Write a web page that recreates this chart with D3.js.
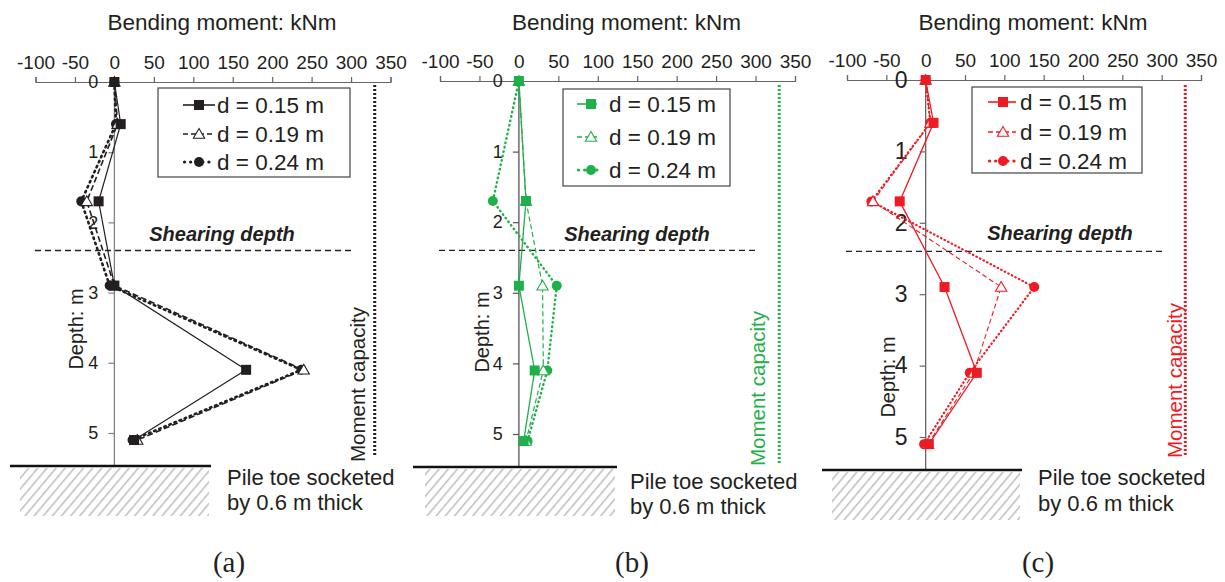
<!DOCTYPE html>
<html>
<head>
<meta charset="utf-8">
<script src="https://cdn.jsdelivr.net/npm/d3@7"></script>
<style>
  html, body { margin: 0; padding: 0; background: #fff; }
  svg { display: block; font-family: "Liberation Sans", Arial, sans-serif; }
</style>
</head>
<body>
<svg id="chart" width="1225" height="582"></svg>
<script>
// ---------------- DATA ----------------
const xTicks = [-100, -50, 0, 50, 100, 150, 200, 250, 300, 350];
const yTicks = [0, 1, 2, 3, 4, 5];
const seriesNames = ["d = 0.15 m", "d = 0.19 m", "d = 0.24 m"];
const panelLabels = ["(a)", "(b)", "(c)"];

const depthsAC = [0, 0.6, 1.7, 2.9, 4.1, 5.1];
const depthsB = [0, 1.7, 2.9, 4.1, 5.1];

const momentA015 = [0, 8, -20, 0, 167, 25];
const momentA019 = [0, 4, -35, 0, 240, 29];
const momentA024 = [0, 2, -42, -6, 237, 23];

const momentB015 = [0, 9, 0, 20, 6];
const momentB019 = [0, 9, 30, 31, 9];
const momentB024 = [0, -33, 48, 36, 11];

const momentC015 = [0, 10, -33, 24, 65, 4];
const momentC019 = [0, 6, -67, 96, 61, 3];
const momentC024 = [0, 6, -69, 138, 56, -2];

const momentCapacity = 330;
const shearingDepth = 2.4;

// ---------------- LAYOUT ----------------
const panels = [
  { color: "#231f20", depths: depthsAC, series: [momentA015, momentA019, momentA024],
    xr: [35.5, 390.5], yr: [82, 433], axisColor: "#808080", tickFont: 18, tickPad: 10,
    ground: 466, hatch: [20, 468, 209, 516], groundX: [10, 211],
    legend: { x: 158, y: 88, w: 192, h: 89, rows: [105, 134, 162], mx: 199, lx: [183, 215], tx: 217 },
    shearX: [35, 351], shearText: [222, 241],
    capY: [85, 456], capText: [365, 462],
    depthLabel: [83, 329], pileText: [227, 485, 510], label: [229, 572],
    lineW: [1.2, 1.6, 2.6], dash: [null, "6,3", "1.5,4"] },
  { color: "#1fb04b", depths: depthsB, series: [momentB015, momentB019, momentB024],
    xr: [440, 795], yr: [81, 434], axisColor: "#555", tickFont: 18, tickPad: 10,
    ground: 467, hatch: [425, 469, 615, 516], groundX: [413, 617],
    legend: { x: 563, y: 89, w: 167, h: 97, rows: [104, 137, 170], mx: 591, lx: [577, 597], tx: 609 },
    shearX: [439, 757], shearText: [637, 241],
    capY: [85, 465], capText: [765, 466],
    depthLabel: [489, 332], pileText: [630, 489, 514], label: [632, 572],
    lineW: [1.3, 1.2, 2.4], dash: [null, "5,3", "0.5,4"] },
  { color: "#ed1c24", depths: depthsAC, series: [momentC015, momentC019, momentC024],
    xr: [847, 1201], yr: [80, 437], axisColor: "#666", tickFont: 23, tickPad: 12,
    ground: 470, hatch: [832, 472, 1020, 520], groundX: [822, 1022],
    legend: { x: 972, y: 87, w: 170, h: 86, rows: [102, 132, 161], mx: 1003, lx: [988, 1016], tx: 1020 },
    shearX: [846, 1162], shearText: [1060, 240],
    capY: [85, 456], capText: [1182, 458],
    depthLabel: [895, 377], pileText: [1038, 485, 511], label: [1038, 572],
    lineW: [1.3, 1.1, 2.2], dash: [null, "5,3", "0.5,3.5"] }
];

const svg = d3.select("#chart");
const textColor = "#231f20";

// hatch pattern
const defs = svg.append("defs");
const pat = defs.append("pattern").attr("id", "hatch").attr("patternUnits", "userSpaceOnUse")
  .attr("width", 7).attr("height", 7).attr("patternTransform", "rotate(40)");
pat.append("rect").attr("width", 7).attr("height", 7).attr("fill", "#fff");
pat.append("line").attr("x1", 0).attr("y1", 0).attr("x2", 0).attr("y2", 7)
  .attr("stroke", "#bdbdbd").attr("stroke-width", 3);

panels.forEach((p, pi) => {
  const g = svg.append("g");
  const x = d3.scaleLinear().domain([-100, 350]).range(p.xr);
  const y = d3.scaleLinear().domain([0, 5]).range(p.yr);
  const centerX = (p.xr[0] + p.xr[1]) / 2;

  // Title
  g.append("text").attr("x", centerX + 9).attr("y", 30).attr("text-anchor", "middle")
    .attr("font-size", 22.5).attr("fill", textColor).text("Bending moment: kNm");

  // Ground + hatch
  g.append("rect").attr("x", p.hatch[0]).attr("y", p.hatch[1])
    .attr("width", p.hatch[2] - p.hatch[0]).attr("height", p.hatch[3] - p.hatch[1])
    .attr("fill", "url(#hatch)");

  // Vertical zero axis
  g.append("line").attr("x1", x(0)).attr("x2", x(0)).attr("y1", y(0)).attr("y2", p.ground)
    .attr("stroke", p.axisColor).attr("stroke-width", 1.3);

  g.append("line").attr("x1", p.groundX[0]).attr("x2", p.groundX[1])
    .attr("y1", p.ground).attr("y2", p.ground).attr("stroke", "#111").attr("stroke-width", 2.6);

  // X axis (top)
  const xAxis = d3.axisTop(x).tickValues(xTicks).tickFormat(d => String(d))
    .tickSize(5).tickPadding(8).tickSizeOuter(5);
  const xa = g.append("g").attr("transform", `translate(0,${y(0)})`).call(xAxis);
  xa.select(".domain").attr("stroke", "#666").attr("stroke-width", 1.2);
  xa.selectAll(".tick line").attr("stroke", "#666").attr("stroke-width", 1.2);
  xa.selectAll(".tick text").attr("font-size", 19).attr("fill", textColor)
    .attr("font-family", '"Liberation Sans", Arial, sans-serif');

  // Y axis (depth)
  const yAxis = d3.axisLeft(y).tickValues(yTicks).tickFormat(d => String(d))
    .tickSize(6).tickPadding(p.tickPad);
  const ya = g.append("g").attr("transform", `translate(${x(0)},0)`).call(yAxis);
  ya.select(".domain").remove();
  ya.selectAll(".tick line").attr("stroke", p.axisColor).attr("stroke-width", 1.2);
  ya.selectAll(".tick text").attr("font-size", p.tickFont).attr("fill", textColor)
    .attr("font-family", '"Liberation Sans", Arial, sans-serif');

  // Depth label
  g.append("text").attr("transform", `translate(${p.depthLabel[0]},${p.depthLabel[1]}) rotate(-90)`)
    .attr("text-anchor", "middle").attr("font-size", 20).attr("fill", textColor).text("Depth: m");

  // Shearing depth
  g.append("line").attr("x1", p.shearX[0]).attr("x2", p.shearX[1])
    .attr("y1", y(shearingDepth)).attr("y2", y(shearingDepth))
    .attr("stroke", "#222").attr("stroke-width", 1.3).attr("stroke-dasharray", "6,4");
  g.append("text").attr("x", p.shearText[0]).attr("y", p.shearText[1]).attr("text-anchor", "middle")
    .attr("font-size", 20).attr("font-weight", "bold").attr("font-style", "italic")
    .attr("fill", "#231f20").text("Shearing depth");

  // Moment capacity
  g.append("line").attr("x1", x(momentCapacity)).attr("x2", x(momentCapacity))
    .attr("y1", p.capY[0]).attr("y2", p.capY[1])
    .attr("stroke", p.color).attr("stroke-width", 3).attr("stroke-dasharray", "2,2");
  g.append("text").attr("transform", `translate(${p.capText[0]},${p.capText[1]}) rotate(-90)`)
    .attr("font-size", 20.5).attr("fill", p.color).text("Moment capacity");

  // Series
  const markerFns = [
    (sel, cx, cy) => sel.append("rect").attr("x", cx - 5).attr("y", cy - 5).attr("width", 10).attr("height", 10)
      .attr("fill", p.color),
    (sel, cx, cy) => sel.append("path").attr("d", d3.symbol(d3.symbolTriangle, 55)())
      .attr("transform", `translate(${cx},${cy + 1})`).attr("fill", "#fff").attr("stroke", p.color).attr("stroke-width", 1.1),
    (sel, cx, cy) => sel.append("circle").attr("cx", cx).attr("cy", cy).attr("r", 5).attr("fill", p.color)
  ];
  const line = d3.line().x(d => x(d[0])).y(d => y(d[1]));
  const drawOrder = [2, 1, 0];
  drawOrder.forEach(si => {
    const vals = p.series[si];
    const pts = vals.map((v, i) => [v, p.depths[i]]);
    g.append("path").attr("d", line(pts)).attr("fill", "none").attr("stroke", p.color)
      .attr("stroke-width", p.lineW[si]).attr("stroke-dasharray", p.dash[si])
      .attr("stroke-linecap", si === 2 ? "round" : "butt");
  });
  drawOrder.forEach(si => {
    const vals = p.series[si];
    const mg = g.append("g");
    vals.forEach((v, i) => markerFns[si](mg, x(v), y(p.depths[i])));
  });

  // Legend
  const L = p.legend;
  g.append("rect").attr("x", L.x).attr("y", L.y).attr("width", L.w).attr("height", L.h)
    .attr("fill", "#fff").attr("stroke", "#444").attr("stroke-width", 1.2);
  seriesNames.forEach((name, si) => {
    const ry = L.rows[si];
    g.append("line").attr("x1", L.lx[0] + (si === 2 ? 1.5 : 0)).attr("x2", L.lx[1]).attr("y1", ry).attr("y2", ry)
      .attr("stroke", p.color).attr("stroke-width", si === 2 ? 3.2 : 1.6)
      .attr("stroke-dasharray", si === 0 ? null : (si === 1 ? "5,3" : "0.1,6"))
      .attr("stroke-linecap", si === 2 ? "round" : "butt");
    markerFns[si](g, L.mx, ry);
    g.append("text").attr("x", L.tx).attr("y", ry + 8).attr("font-size", 22.5)
      .attr("fill", textColor).text(name);
  });

  // Pile toe text
  g.append("text").attr("x", p.pileText[0]).attr("y", p.pileText[1]).attr("font-size", 22)
    .attr("fill", textColor).text("Pile toe socketed");
  g.append("text").attr("x", p.pileText[0]).attr("y", p.pileText[2]).attr("font-size", 22)
    .attr("fill", textColor).text("by 0.6 m thick");

  // Panel label
  g.append("text").attr("x", p.label[0]).attr("y", p.label[1]).attr("text-anchor", "middle")
    .attr("font-size", 29).attr("font-family", '"Liberation Serif", "Times New Roman", serif')
    .attr("fill", textColor).text(panelLabels[pi]);
});
</script>
</body>
</html>
